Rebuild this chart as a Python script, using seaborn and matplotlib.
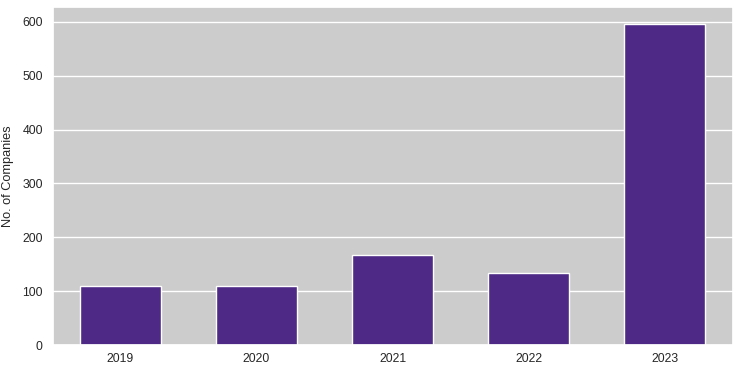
import matplotlib
matplotlib.use("Agg")
import matplotlib.pyplot as plt
import seaborn as sns
import pandas as pd

years = ["2019", "2020", "2021", "2022", "2023"]
companies = [110, 109, 167, 133, 597]

sns.set_theme(style="darkgrid", rc={"axes.facecolor": "#cccccc", "grid.color": "white"})
plt.rcParams["font.family"] = ["Liberation Sans", "DejaVu Sans"]

df = pd.DataFrame({"year": years, "companies": companies})

fig, ax = plt.subplots(figsize=(7.4, 3.73), dpi=100)
sns.barplot(data=df, x="year", y="companies", color="#4e2a86", saturation=1,
            width=0.6, edgecolor="white", linewidth=1, ax=ax)
ax.set_xlabel("")
ax.set_ylabel("No. of Companies", fontsize=9.2, color="#262626")
ax.yaxis.set_label_coords(-0.056, 0.5)
ax.tick_params(axis="y", length=0, labelsize=8.8, colors="#262626", pad=7)
ax.tick_params(axis="x", length=0, labelsize=8.8, colors="#262626", pad=6)
ax.set_yticks([0, 100, 200, 300, 400, 500, 600])
ax.set_xlim(-0.5, 4.5)
plt.subplots_adjust(left=0.071, right=0.99, top=0.98, bottom=0.075)
plt.savefig("out.png", dpi=100)
